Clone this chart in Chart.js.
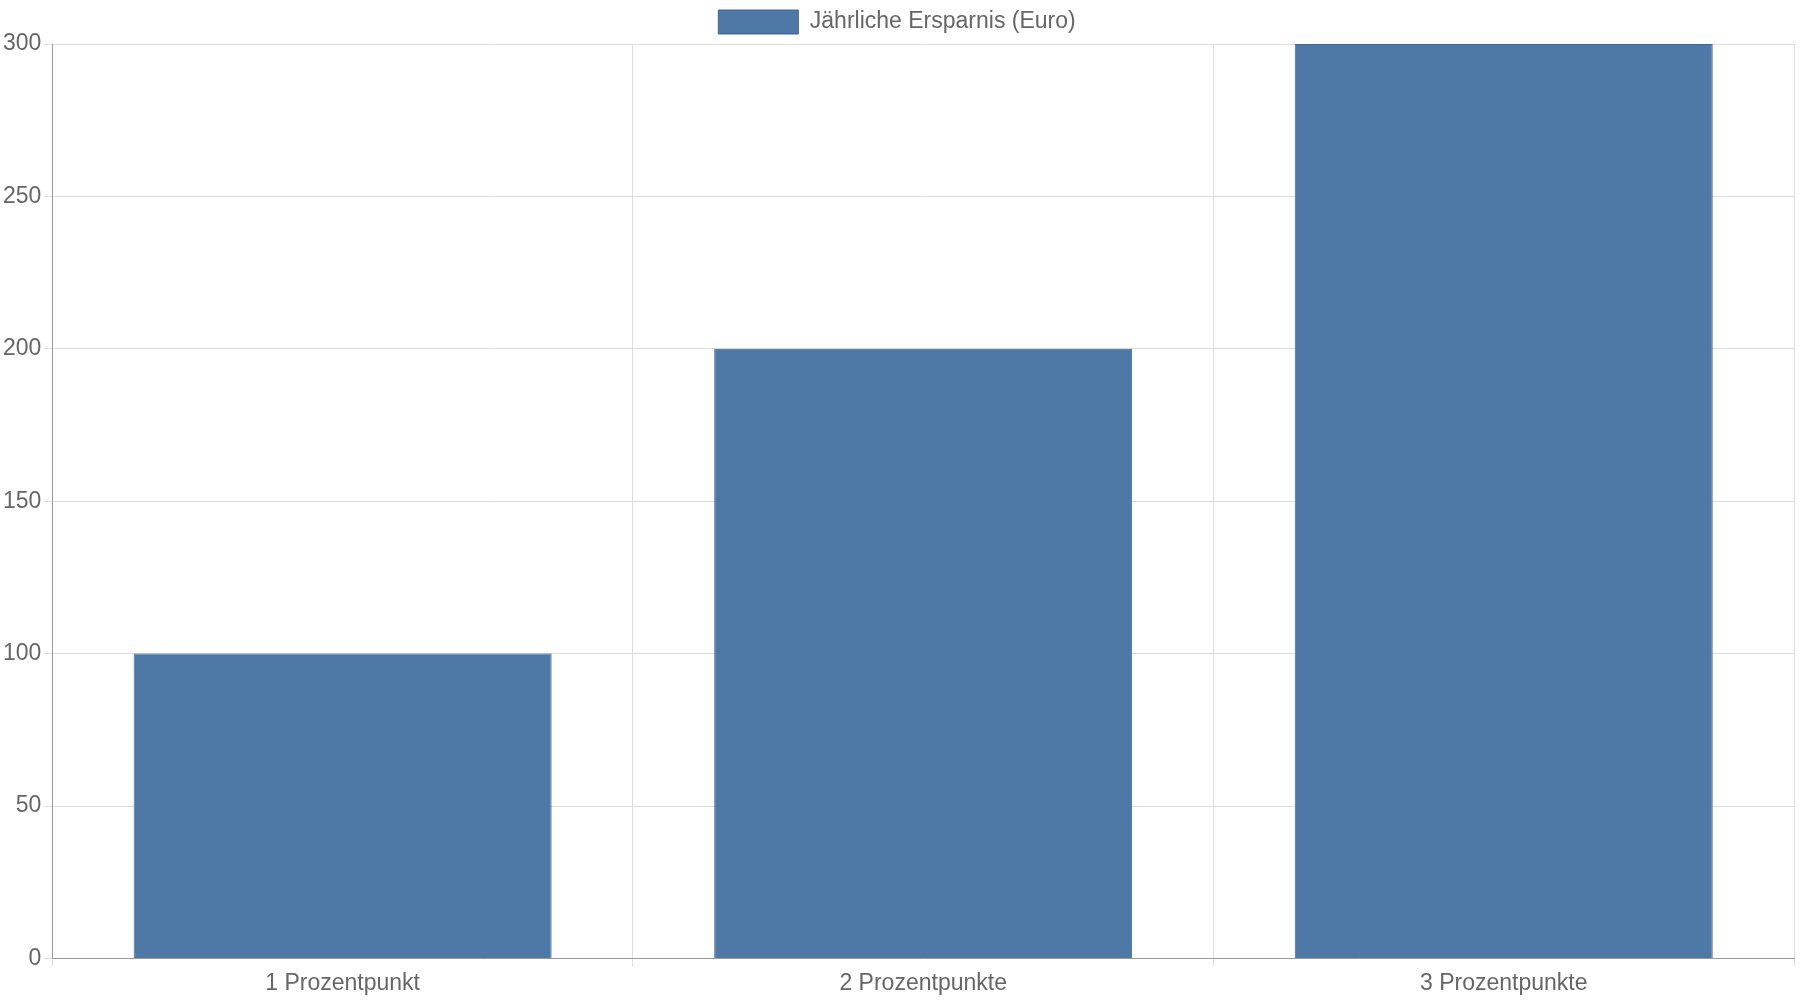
<!DOCTYPE html>
<html><head><meta charset="utf-8">
<script src="https://cdn.jsdelivr.net/npm/chart.js@4"></script>
<style>html,body{margin:0;padding:0;background:#fff}#wrap{width:1800px;height:1000px}</style>
</head><body><div id="wrap"><canvas id="c"></canvas></div>
<script>
const categories = ["1 Prozentpunkt", "2 Prozentpunkte", "3 Prozentpunkte"];
const savings = [100, 200, 300];
const seriesLabel = "Jährliche Ersparnis (Euro)";
Chart.defaults.font.family = "'Liberation Sans', Arial, sans-serif";
Chart.defaults.font.size = 23;
Chart.defaults.color = "#666";
new Chart(document.getElementById('c'), {
  type: 'bar',
  data: { labels: categories, datasets: [{ label: seriesLabel, data: savings,
    backgroundColor: '#4e79a7', borderColor: '#3e6590', borderWidth: 1 }] },
  options: {
    responsive: true, maintainAspectRatio: false, animation: false,
    layout: { padding: { right: 6 } },
    plugins: { legend: { labels: { boxWidth: 80, boxHeight: 24 } } },
    scales: {
      y: { min: 0, max: 300, ticks: { stepSize: 50 }, grid: { color: '#ddd' }, border: { color: '#999' } },
      x: { grid: { color: '#ddd' }, border: { color: '#999' } }
    }
  }
});
</script></body></html>
